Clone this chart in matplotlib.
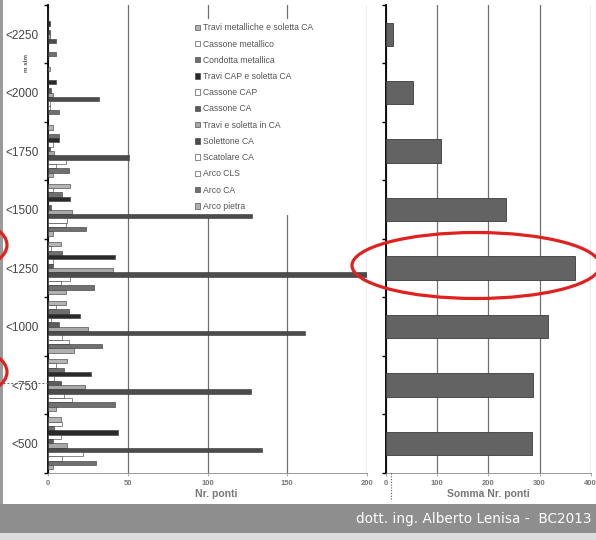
import numpy as np
import matplotlib.pyplot as plt
from matplotlib.patches import Ellipse, Rectangle

# fasce di quota (dal basso verso l'alto)
quote = ['<500', '<750', '<1000', '<1250', '<1500', '<1750', '<2000', '<2250']

tipologie = ['Travi metalliche e soletta CA', 'Cassone metallico', 'Condotta metallica',
             'Travi CAP e soletta CA', 'Cassone CAP', 'Cassone CA', 'Travi e soletta in CA',
             'Solettone CA', 'Scatolare CA', 'Arco CLS', 'Arco CA', 'Arco pietra']

colori = ['#b4b4b4', '#ffffff', '#6e6e6e', '#2a2a2a', '#ffffff', '#5c5c5c',
          '#a8a8a8', '#4c4c4c', '#ffffff', '#ffffff', '#707070', '#b0b0b0']

# numero di ponti per tipologia (stesso ordine di "tipologie")
q500 = [8, 9, 4, 44, 8, 3, 12, 134, 22, 9, 30, 3]
q750 = [12, 5, 10, 27, 4, 8, 23, 127, 10, 15, 42, 5]
q1000 = [11, 5, 13, 20, 2, 7, 25, 161, 9, 13, 34, 16]
q1250 = [8, 2, 9, 42, 3, 3, 41, 200, 14, 8, 29, 11]
q1500 = [14, 3, 9, 14, 0, 2, 15, 128, 12, 11, 24, 3]
q1750 = [3, 0, 7, 7, 3, 1, 4, 51, 11, 5, 13, 3]
q2000 = [1, 0, 0, 5, 0, 2, 3, 32, 1, 1, 7, 0]
q2250 = [0, 0, 0, 1, 0, 1, 1, 5, 0, 0, 5, 0]

ponti = np.array([q500, q750, q1000, q1250, q1500, q1750, q2000, q2250])
somma = ponti.sum(axis=1)

W, H = 596, 540
plt.rcParams['font.family'] = ['Liberation Sans', 'DejaVu Sans']


def box(x0, y0, x1, y1):
    # rettangolo in pixel (origine in alto a sinistra) -> frazione della figura
    return [x0 / W, 1 - y1 / H, (x1 - x0) / W, (y1 - y0) / H]


fig = plt.figure(figsize=(W / 100, H / 100), dpi=100)
fig.patch.set_facecolor('white')

ax = fig.add_axes(box(48, 5, 367, 472.7))
ax2 = fig.add_axes(box(386, 5, 590.7, 472.7))

y = np.arange(len(quote))
n = len(tipologie)
bh = 1 / 13.5
handles = []
for i in range(n):
    off = 6 / 13.5 - (i + 0.5) * bh
    b = ax.barh(y + off, ponti[:, i], height=bh, color=colori[i],
                edgecolor='#333333', linewidth=0.4, zorder=3)
    handles.append(b)

ax2.barh(y, somma, height=0.4, color='#636363', edgecolor='#3c3c3c',
         linewidth=0.6, zorder=3)

for a, xmax, step in [(ax, 200, 50), (ax2, 400, 100)]:
    a.set_xlim(0, xmax)
    a.set_ylim(-0.5, len(quote) - 0.5)
    a.set_xticks(np.arange(0, xmax + 1, step))
    a.grid(axis='x', color='#707070', linewidth=0.9, zorder=0)
    a.set_yticks(np.arange(-0.5, len(quote), 1), minor=True)
    a.tick_params(axis='y', which='minor', length=3, width=1, direction='out', color='black')
    a.tick_params(axis='x', length=2, width=0.5, color='#888888', labelsize=5.5,
                  labelcolor='#777777', pad=3)
    for lbl in a.get_xticklabels():
        lbl.set_fontweight('bold')
    for s in ['top', 'right']:
        a.spines[s].set_visible(False)
    a.spines['left'].set_linewidth(1.3)
    a.spines['bottom'].set_color('#888888')
    a.spines['bottom'].set_linewidth(0.6)

ax.set_yticks(y)
ax.set_yticklabels(quote)
ax.tick_params(axis='y', which='major', length=0, labelsize=8.5, labelcolor='#444444', pad=7)
ax2.set_yticks([])

leg = ax.legend(handles, tipologie, loc='upper left', bbox_to_anchor=(191 / W, 1 - 19 / H),
                bbox_transform=fig.transFigure, frameon=True, fontsize=6.2,
                labelcolor='#555555', handlelength=0.6, handleheight=0.6,
                handletextpad=0.35, labelspacing=0.84, borderpad=0.5, borderaxespad=0,
                fancybox=False)
leg.get_frame().set_facecolor('white')
leg.get_frame().set_edgecolor('none')
leg.get_frame().set_alpha(1)
leg.set_zorder(2.5)

fig.text(216 / W, 1 - 494 / H, 'Nr. ponti', ha='center', va='center',
         fontsize=7.5, fontweight='bold', color='#777777')
fig.text(488 / W, 1 - 494 / H, 'Somma Nr. ponti', ha='center', va='center',
         fontsize=7.5, fontweight='bold', color='#777777')
fig.text(27 / W, 1 - 63 / H, 'm slm', ha='center', va='center', rotation=90,
         fontsize=4.5, fontweight='bold', color='#555555')

# sovrapposizioni della slide (cornice, piè di pagina, evidenziazioni)
ov = fig.add_axes([0, 0, 1, 1], zorder=10)
ov.set_xlim(0, W)
ov.set_ylim(H, 0)
ov.axis('off')
ov.add_patch(Rectangle((0, 0), 3, 504, color='#9a9a9a', lw=0))
ov.add_patch(Rectangle((0, 504), W, 29, color='#8e8e8e', lw=0))
ov.add_patch(Rectangle((0, 533), W, 7, color='#dcdcdc', lw=0))
ov.text(591, 518.5, 'dott. ing. Alberto Lenisa -  BC2013', ha='right', va='center',
        color='white', fontsize=9.8, family=['Liberation Sans Narrow', 'DejaVu Sans'])
ov.plot([3, 48], [383, 383], ls=(0, (2, 2)), color='#666666', lw=0.7)
ov.plot([391, 391], [473, 501], ls=(0, (1, 1.5)), color='#555555', lw=0.8)
red = '#e0211f'
ov.add_patch(Ellipse((476, 265.5), 248, 66, fill=False, ec=red, lw=2.3))
ov.add_patch(Ellipse((-28, 245), 70, 44, fill=False, ec=red, lw=2.3))
ov.add_patch(Ellipse((-28, 372), 70, 44, fill=False, ec=red, lw=2.3))

fig.savefig('out.png', dpi=100)
